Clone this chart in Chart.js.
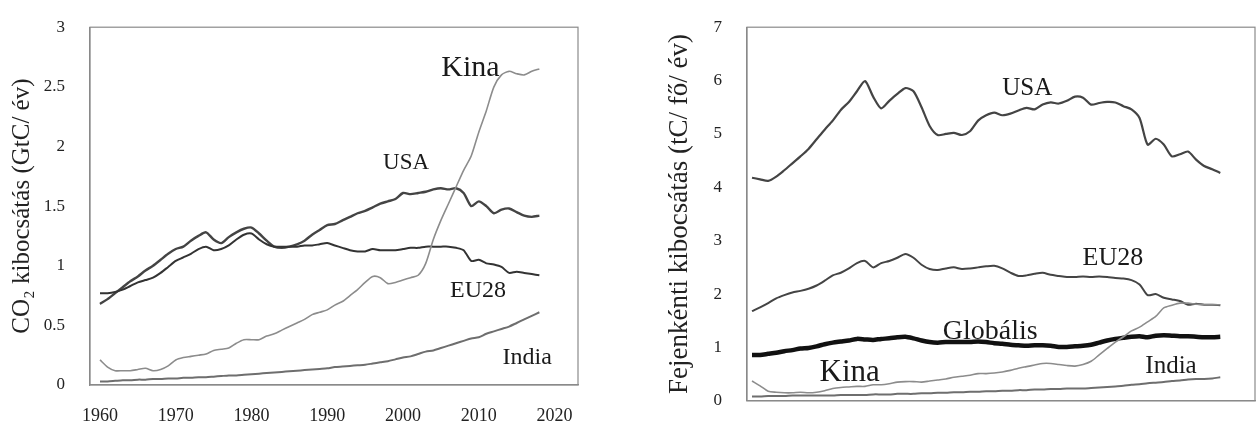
<!DOCTYPE html>
<html>
<head>
<meta charset="utf-8">
<script src="https://cdn.jsdelivr.net/npm/chart.js"></script>
<style>
    body { margin: 0; background: #fff; width: 1257px; height: 428px; position: relative; overflow: hidden; }
    #wrapTotal { position: absolute; left: 0; top: 0; width: 590px; height: 428px; }
    #wrapPerCapita { position: absolute; left: 640px; top: 0; width: 617px; height: 428px; }
</style>
</head>
<body>
<div id="wrapTotal"><canvas id="totalChart"></canvas></div>
<div id="wrapPerCapita"><canvas id="perCapitaChart"></canvas></div>
<script>
const years = [
    1960, 1961, 1962, 1963, 1964, 1965, 1966, 1967, 1968, 1969,
    1970, 1971, 1972, 1973, 1974, 1975, 1976, 1977, 1978, 1979,
    1980, 1981, 1982, 1983, 1984, 1985, 1986, 1987, 1988, 1989,
    1990, 1991, 1992, 1993, 1994, 1995, 1996, 1997, 1998, 1999,
    2000, 2001, 2002, 2003, 2004, 2005, 2006, 2007, 2008, 2009,
    2010, 2011, 2012, 2013, 2014, 2015, 2016, 2017, 2018
];

// CO2 kibocsátás (GtC/év)
const usaTotal = [
    0.68, 0.72, 0.77, 0.82, 0.87, 0.91, 0.96, 1.00, 1.05, 1.10,
    1.14, 1.16, 1.21, 1.25, 1.28, 1.22, 1.19, 1.24, 1.28, 1.31,
    1.32, 1.27, 1.21, 1.16, 1.15, 1.16, 1.18, 1.21, 1.26, 1.30,
    1.34, 1.35, 1.38, 1.41, 1.44, 1.46, 1.49, 1.52, 1.54, 1.56,
    1.61, 1.60, 1.61, 1.62, 1.64, 1.65, 1.64, 1.65, 1.61, 1.50,
    1.54, 1.50, 1.44, 1.47, 1.48, 1.45, 1.42, 1.41, 1.42
];
const euTotal = [
    0.77, 0.77, 0.78, 0.80, 0.83, 0.86, 0.88, 0.90, 0.94, 0.99,
    1.04, 1.07, 1.10, 1.14, 1.16, 1.13, 1.14, 1.17, 1.22, 1.26,
    1.27, 1.22, 1.18, 1.16, 1.16, 1.16, 1.16, 1.17, 1.17, 1.18,
    1.19, 1.17, 1.15, 1.13, 1.12, 1.12, 1.14, 1.13, 1.13, 1.13,
    1.14, 1.15, 1.15, 1.16, 1.16, 1.16, 1.16, 1.15, 1.13, 1.04,
    1.05, 1.02, 1.01, 0.99, 0.94, 0.95, 0.94, 0.93, 0.92
];
const chinaTotal = [
    0.21, 0.15, 0.12, 0.12, 0.12, 0.13, 0.14, 0.12, 0.13, 0.16,
    0.21, 0.23, 0.24, 0.25, 0.26, 0.29, 0.30, 0.31, 0.35, 0.38,
    0.38, 0.38, 0.41, 0.43, 0.46, 0.49, 0.52, 0.55, 0.59, 0.61,
    0.63, 0.67, 0.70, 0.75, 0.80, 0.86, 0.91, 0.90, 0.85, 0.86,
    0.88, 0.90, 0.92, 1.02, 1.22, 1.38, 1.52, 1.66, 1.80, 1.92,
    2.12, 2.30, 2.50, 2.60, 2.63, 2.61, 2.60, 2.63, 2.65
];
const indiaTotal = [
    0.03, 0.03, 0.035, 0.04, 0.04, 0.045, 0.045, 0.05, 0.05, 0.055,
    0.055, 0.06, 0.06, 0.065, 0.065, 0.07, 0.075, 0.08, 0.08, 0.085,
    0.09, 0.095, 0.10, 0.105, 0.11, 0.115, 0.12, 0.125, 0.13, 0.135,
    0.14, 0.15, 0.155, 0.16, 0.165, 0.17, 0.18, 0.19, 0.20, 0.215,
    0.23, 0.24, 0.26, 0.28, 0.29, 0.31, 0.33, 0.35, 0.37, 0.39,
    0.40, 0.43, 0.45, 0.47, 0.49, 0.52, 0.55, 0.58, 0.61
];

// Fejenkénti kibocsátás (tC/fő/év)
const usaPerCapita = [
    4.18, 4.15, 4.12, 4.20, 4.32, 4.45, 4.58, 4.72, 4.90, 5.08,
    5.25, 5.45, 5.60, 5.80, 5.99, 5.70, 5.48, 5.62, 5.75, 5.86,
    5.80, 5.50, 5.15, 4.98, 5.00, 5.02, 4.98, 5.05, 5.25, 5.35,
    5.40, 5.35, 5.38, 5.44, 5.49, 5.46, 5.55, 5.59, 5.57, 5.62,
    5.70, 5.68, 5.55, 5.58, 5.60, 5.59, 5.52, 5.46, 5.30, 4.80,
    4.91, 4.80, 4.58, 4.62, 4.67, 4.52, 4.40, 4.34, 4.27
];
const euPerCapita = [
    1.68, 1.75, 1.83, 1.92, 1.98, 2.03, 2.06, 2.10, 2.16, 2.25,
    2.35, 2.40, 2.48, 2.58, 2.62, 2.50, 2.58, 2.62, 2.68, 2.75,
    2.68, 2.55, 2.47, 2.45, 2.48, 2.50, 2.47, 2.48, 2.50, 2.52,
    2.53, 2.48, 2.40, 2.34, 2.35, 2.38, 2.40, 2.36, 2.34, 2.32,
    2.32, 2.33, 2.32, 2.33, 2.32, 2.30, 2.29, 2.26, 2.18, 1.98,
    2.00, 1.93, 1.90, 1.87, 1.80, 1.82, 1.80, 1.80, 1.79
];
const globalPerCapita = [
    0.86, 0.86, 0.88, 0.90, 0.93, 0.95, 0.98, 0.99, 1.02, 1.06,
    1.09, 1.11, 1.13, 1.16, 1.15, 1.14, 1.16, 1.17, 1.19, 1.20,
    1.17, 1.13, 1.10, 1.09, 1.10, 1.10, 1.10, 1.10, 1.11, 1.10,
    1.08, 1.07, 1.05, 1.04, 1.03, 1.04, 1.04, 1.03, 1.01, 1.01,
    1.02, 1.03, 1.05, 1.09, 1.13, 1.16, 1.18, 1.20, 1.21, 1.19,
    1.22, 1.23, 1.22, 1.21, 1.21, 1.20, 1.19, 1.19, 1.20
];
const chinaPerCapita = [
    0.37, 0.28, 0.18, 0.16, 0.15, 0.15, 0.16, 0.15, 0.16, 0.19,
    0.23, 0.25, 0.26, 0.27, 0.27, 0.30, 0.30, 0.32, 0.35, 0.36,
    0.36, 0.35, 0.37, 0.39, 0.41, 0.44, 0.46, 0.48, 0.51, 0.51,
    0.52, 0.54, 0.57, 0.61, 0.64, 0.67, 0.70, 0.70, 0.68, 0.66,
    0.65, 0.68, 0.74, 0.86, 0.98, 1.10, 1.20, 1.31, 1.38, 1.48,
    1.58, 1.74, 1.79, 1.83, 1.83, 1.81, 1.80, 1.80, 1.80
];
const indiaPerCapita = [
    0.08, 0.08, 0.09, 0.09, 0.09, 0.10, 0.10, 0.10, 0.10, 0.10,
    0.10, 0.11, 0.11, 0.11, 0.11, 0.12, 0.12, 0.12, 0.13, 0.13,
    0.13, 0.14, 0.14, 0.15, 0.15, 0.16, 0.16, 0.17, 0.17, 0.18,
    0.18, 0.19, 0.19, 0.20, 0.20, 0.21, 0.21, 0.22, 0.22, 0.23,
    0.23, 0.23, 0.24, 0.25, 0.26, 0.27, 0.28, 0.30, 0.31, 0.33,
    0.34, 0.35, 0.37, 0.38, 0.40, 0.41, 0.41, 0.42, 0.44
];

const yearTicks = [1960, 1970, 1980, 1990, 2000, 2010, 2020];
const totalTicks = [0, 0.5, 1, 1.5, 2, 2.5, 3];
const perCapitaTicks = [0, 1, 2, 3, 4, 5, 6, 7];

const SERIF = '"Liberation Serif", "DejaVu Serif", serif';
Chart.defaults.font.family = SERIF;
Chart.defaults.color = "#222";

// keret + feliratok a vonalak mellett
const frameLabels = {
    id: "frameLabels",
    afterDatasetsDraw(chart, args, opts) {
        const { ctx, chartArea: a, scales } = chart;
        ctx.save();
        ctx.strokeStyle = "#8a8a8a";
        ctx.lineWidth = 1.2;
        ctx.strokeRect(a.left, a.top, a.right - a.left, a.bottom - a.top);
        ctx.fillStyle = "#1a1a1a";
        ctx.textAlign = "center";
        ctx.textBaseline = "middle";
        (opts.items || []).forEach((item) => {
            ctx.font = item.size + "px " + SERIF;
            ctx.fillText(item.text, scales.x.getPixelForValue(item.x), scales.y.getPixelForValue(item.y));
        });
        ctx.restore();
    },
};

function series(label, values, color, width) {
    return {
        label,
        data: values.map((v, i) => ({ x: years[i], y: v })),
        borderColor: color,
        borderWidth: width,
        pointRadius: 0,
        tension: 0.25,
        fill: false,
    };
}

function renderChart(canvasId, cfg) {
    new Chart(document.getElementById(canvasId), {
        type: "line",
        data: { datasets: cfg.datasets },
        plugins: [frameLabels],
        options: {
            responsive: true,
            maintainAspectRatio: false,
            animation: false,
            layout: { padding: cfg.padding },
            plugins: {
                legend: { display: false },
                tooltip: { enabled: false },
                frameLabels: { items: cfg.labels },
            },
            scales: {
                x: {
                    type: "linear",
                    min: cfg.xMin,
                    max: cfg.xMax,
                    grid: { display: false },
                    border: { color: "#8a8a8a", width: 1.2 },
                    afterBuildTicks: (s) => { s.ticks = yearTicks.map((v) => ({ value: v })); },
                    afterFit: (s) => { s.height = cfg.xHeight; },
                    ticks: {
                        display: cfg.showYears,
                        padding: 12,
                        maxRotation: 0,
                        autoSkip: false,
                        font: { size: 18 },
                        callback: (v) => String(v),
                    },
                },
                y: {
                    min: 0,
                    max: cfg.yMax,
                    grid: { display: false },
                    border: { color: "#8a8a8a", width: 1.2 },
                    afterBuildTicks: (s) => { s.ticks = cfg.yTicks.map((v) => ({ value: v })); },
                    afterFit: (s) => { s.width = cfg.yWidth; },
                    ticks: { padding: 17, font: { size: 17 }, callback: (v) => String(v) },
                    title: {
                        display: true,
                        text: cfg.yTitle,
                        font: { size: cfg.titleSize },
                        padding: { top: cfg.titlePad, bottom: 0 },
                    },
                },
            },
        },
    });
}

document.addEventListener("DOMContentLoaded", () => {
    renderChart("totalChart", {
        datasets: [
            series("Kina", chinaTotal, "#8c8c8c", 1.6),
            series("India", indiaTotal, "#6e6e6e", 2),
            series("EU28", euTotal, "#333", 2),
            series("USA", usaTotal, "#444", 2.4),
        ],
        labels: [
            { text: "Kina", x: 2008.9, y: 2.66, size: 30 },
            { text: "USA", x: 2000.4, y: 1.86, size: 23 },
            { text: "EU28", x: 2009.9, y: 0.79, size: 24 },
            { text: "India", x: 2016.4, y: 0.23, size: 24 },
        ],
        padding: { top: 27, right: 12, left: 0, bottom: 0 },
        xMin: 1958.68,
        xMax: 2023.1,
        xHeight: 43,
        showYears: true,
        yMax: 3,
        yTicks: totalTicks,
        yWidth: 90,
        yTitle: "CO₂ kibocsátás (GtC/ év)",
        titleSize: 25,
        titlePad: 7,
    });
    renderChart("perCapitaChart", {
        datasets: [
            series("India", indiaPerCapita, "#6e6e6e", 2),
            series("Kina", chinaPerCapita, "#8c8c8c", 1.6),
            series("EU28", euPerCapita, "#444", 2),
            series("USA", usaPerCapita, "#444", 2.2),
            series("Globális", globalPerCapita, "#111", 4.5),
        ],
        labels: [
            { text: "USA", x: 1994.1, y: 5.86, size: 25 },
            { text: "EU28", x: 2004.7, y: 2.67, size: 26 },
            { text: "Globális", x: 1989.5, y: 1.29, size: 28 },
            { text: "India", x: 2011.9, y: 0.64, size: 25 },
            { text: "Kina", x: 1972.1, y: 0.52, size: 31 },
        ],
        padding: { top: 25, right: 2, left: 0, bottom: 0 },
        xMin: 1959.38,
        xMax: 2022.3,
        xHeight: 23,
        showYears: false,
        yMax: 7,
        yTicks: perCapitaTicks,
        yWidth: 107,
        yTitle: "Fejenkénti kibocsátás (tC/ fő/ év)",
        titleSize: 27,
        titlePad: 24,
    });
});
</script>
</body>
</html>
